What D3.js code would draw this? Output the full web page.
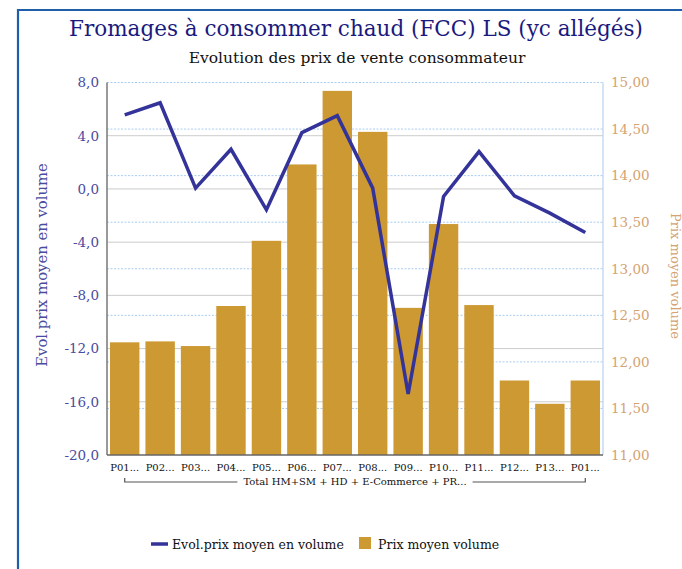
<!DOCTYPE html>
<html>
<head>
<meta charset="utf-8">
<script src="https://cdn.jsdelivr.net/npm/d3@7"></script>
<style>
  html, body { margin: 0; padding: 0; background: #fff; }
  svg { display: block; }
</style>
</head>
<body>
<svg id="chart" width="682" height="569"></svg>
<script>
// Periods along the x axis
const categories = ["P01...", "P02...", "P03...", "P04...", "P05...", "P06...", "P07...",
                    "P08...", "P09...", "P10...", "P11...", "P12...", "P13...", "P01..."];
// Prix moyen volume (right axis, bars)
const prixMoyen = [12.21, 12.22, 12.17, 12.60, 13.30, 14.12, 14.91,
                   14.47, 12.58, 13.48, 12.61, 11.80, 11.55, 11.80];
// Evol. prix moyen en volume (left axis, line)
const evolPrix = [5.56, 6.48, 0.06, 2.98, -1.57, 4.23, 5.51,
                  0.06, -15.41, -0.57, 2.81, -0.52, -1.82, -3.28];
// Tick labels
const leftTicks = [8, 4, 0, -4, -8, -12, -16, -20];
const rightTicks = [15, 14.5, 14, 13.5, 13, 12.5, 12, 11.5, 11];
const groupLabel = "Total HM+SM + HD + E-Commerce + PR...";

const svg = d3.select("#chart");
const serif = "'DejaVu Serif', 'Liberation Serif', serif";

const m = { left: 107, right: 603, top: 82.5, bottom: 455 };

// Frame
svg.append("path")
  .attr("d", `M18,569 L18,10 L682,10`)
  .attr("fill", "none").attr("stroke", "#1f5faa").attr("stroke-width", 2.2);

// Titles
svg.append("text").attr("x", 356).attr("y", 36).attr("text-anchor", "middle")
  .attr("font-family", serif).attr("font-size", 21.5).attr("fill", "#1a1a7e")
  .text("Fromages à consommer chaud (FCC) LS (yc allégés)");
svg.append("text").attr("x", 357).attr("y", 63).attr("text-anchor", "middle")
  .attr("font-family", serif).attr("font-size", 15.5).attr("fill", "#111")
  .text("Evolution des prix de vente consommateur");

const x = d3.scaleBand().domain(d3.range(categories.length))
  .range([m.left, m.right]).paddingInner(0.17).paddingOuter(0.085);
const yL = d3.scaleLinear().domain([-20, 8]).range([m.bottom, m.top]);
const yR = d3.scaleLinear().domain([11, 15]).range([m.bottom, m.top]);

// Gridlines: solid grey on left ticks, dotted blue on right ticks
svg.append("g").selectAll("line").data(leftTicks.slice(1, -1)).join("line")
  .attr("x1", m.left).attr("x2", m.right)
  .attr("y1", d => yL(d)).attr("y2", d => yL(d))
  .attr("stroke", "#cccccc").attr("stroke-width", 1);
svg.append("g").selectAll("line").data(rightTicks.slice(0, -1)).join("line")
  .attr("x1", m.left).attr("x2", m.right)
  .attr("y1", d => yR(d)).attr("y2", d => yR(d))
  .attr("stroke", "#a9cdf2").attr("stroke-width", 1).attr("stroke-dasharray", "2,1.5");

// Bars
svg.append("g").selectAll("rect").data(prixMoyen).join("rect")
  .attr("x", (d, i) => x(i)).attr("width", x.bandwidth())
  .attr("y", d => yR(d)).attr("height", d => m.bottom - yR(d))
  .attr("fill", "#cc9933");

// Axis lines
svg.append("line").attr("x1", m.left).attr("x2", m.left)
  .attr("y1", m.top).attr("y2", m.bottom).attr("stroke", "#777").attr("stroke-width", 1.5);
svg.append("line").attr("x1", m.right).attr("x2", m.right)
  .attr("y1", m.top).attr("y2", m.bottom).attr("stroke", "#b5d3f0").attr("stroke-width", 1.2);
svg.append("line").attr("x1", m.left).attr("x2", m.right)
  .attr("y1", m.bottom).attr("y2", m.bottom).attr("stroke", "#666").attr("stroke-width", 1.5);

// Left axis
const fmtL = d => d3.format(".1f")(d).replace(".", ",").replace("−", "-");
const axL = d3.axisLeft(yL).tickValues(leftTicks).tickSize(0).tickPadding(8).tickFormat(fmtL);
svg.append("g").attr("transform", `translate(${m.left},0)`).call(axL)
  .call(g => g.select(".domain").remove())
  .selectAll("text").attr("font-family", serif).attr("font-size", 13.5).attr("fill", "#4a4aa0");

// Right axis
const fmtR = d => d3.format(".2f")(d).replace(".", ",");
const axR = d3.axisRight(yR).tickValues(rightTicks).tickSize(0).tickPadding(8).tickFormat(fmtR);
svg.append("g").attr("transform", `translate(${m.right},0)`).call(axR)
  .call(g => g.select(".domain").remove())
  .selectAll("text").attr("font-family", serif).attr("font-size", 13.5).attr("fill", "#d4a373");

// Axis titles
svg.append("text").attr("transform", `translate(47,265) rotate(-90)`)
  .attr("text-anchor", "middle").attr("font-family", serif).attr("font-size", 14.8)
  .attr("fill", "#4a4aa0").text("Evol.prix moyen en volume");
svg.append("text").attr("transform", `translate(671,276) rotate(90)`)
  .attr("text-anchor", "middle").attr("font-family", serif).attr("font-size", 13)
  .attr("fill", "#d4a373").text("Prix moyen volume");

// Line
const line = d3.line().x((d, i) => x(i) + x.bandwidth() / 2).y(d => yL(d));
svg.append("path").datum(evolPrix).attr("d", line)
  .attr("fill", "none").attr("stroke", "#33339a").attr("stroke-width", 3.5)
  .attr("stroke-linejoin", "miter");

// X axis labels
const axX = d3.axisBottom(x).tickSize(0).tickPadding(9).tickFormat(i => categories[i]);
svg.append("g").attr("transform", `translate(0,${m.bottom})`).call(axX)
  .call(g => g.select(".domain").remove())
  .selectAll("text").attr("font-family", serif).attr("font-size", 10).attr("fill", "#111");

// Group bracket
const gx1 = x(0) + x.bandwidth() / 2, gx2 = x(categories.length - 1) + x.bandwidth() / 2;
const gy = 482, gcx = (m.left + m.right) / 2;
const grp = svg.append("g");
const gText = grp.append("text").attr("x", gcx).attr("y", gy + 3).attr("text-anchor", "middle")
  .attr("font-family", serif).attr("font-size", 10).attr("fill", "#111").text(groupLabel);
const tw = gText.node().getComputedTextLength();
grp.append("path")
  .attr("d", `M${gx1},${gy - 4} L${gx1},${gy} L${gcx - tw / 2 - 6},${gy} M${gcx + tw / 2 + 6},${gy} L${gx2},${gy} L${gx2},${gy - 4}`)
  .attr("fill", "none").attr("stroke", "#555").attr("stroke-width", 1.2);

// Legend
const lg = svg.append("g").attr("font-family", serif).attr("font-size", 12.5).attr("fill", "#111");
lg.append("line").attr("x1", 151).attr("x2", 168).attr("y1", 544).attr("y2", 544)
  .attr("stroke", "#33339a").attr("stroke-width", 3.5);
lg.append("text").attr("x", 172).attr("y", 549).text("Evol.prix moyen en volume");
lg.append("rect").attr("x", 359).attr("y", 537).attr("width", 12).attr("height", 12).attr("fill", "#cc9933");
lg.append("text").attr("x", 378).attr("y", 549).text("Prix moyen volume");
</script>
</body>
</html>
